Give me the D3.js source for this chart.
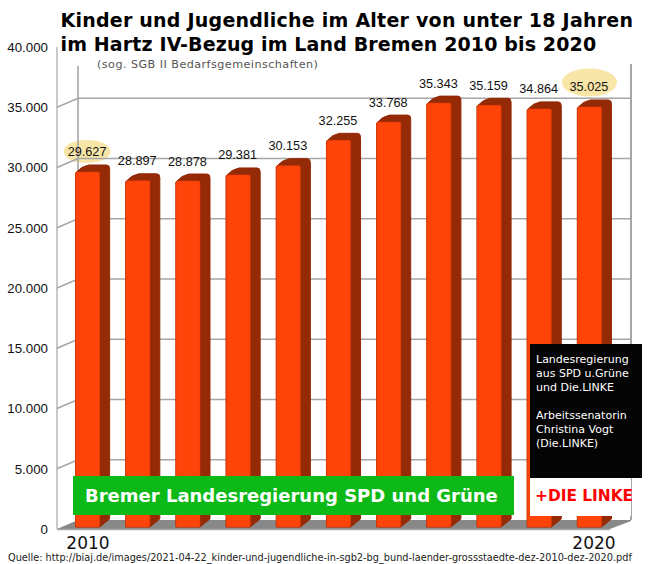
<!DOCTYPE html>
<html><head><meta charset="utf-8">
<script src="https://cdnjs.cloudflare.com/ajax/libs/d3/7.8.5/d3.min.js"></script>
<style>html,body{margin:0;padding:0;background:#fff}svg{display:block}</style>
</head><body><svg id="c" width="659" height="564"></svg>
<script>
const years=[2010,2011,2012,2013,2014,2015,2016,2017,2018,2019,2020];
const values=[29627,28897,28878,29381,30153,32255,33768,35343,35159,34864,35025];
const yearLabels=[2010,2020];
const highlighted=[2010,2020];
const yTicks=[0,5000,10000,15000,20000,25000,30000,35000,40000];
const titleLines=["Kinder und Jugendliche im Alter von unter 18 Jahren","im Hartz IV-Bezug im Land Bremen 2010 bis 2020"];
const subtitle="(sog. SGB II Bedarfsgemeinschaften)";
const infoLines=["Landesregierung","aus SPD u.Grüne","und Die.LINKE","","Arbeitssenatorin","Christina Vogt","(Die.LINKE)"];
const source="Quelle: http://biaj.de/images/2021-04-22_kinder-und-jugendliche-in-sgb2-bg_bund-laender-grossstaedte-dez-2010-dez-2020.pdf";

const svg=d3.select("#c");
const fmt=d3.formatLocale({decimal:",",thousands:".",grouping:[3],currency:["","€"]}).format(",d");
const y=d3.scaleLinear().domain([0,40000]).range([529,47]);
const x=d3.scaleBand().domain(years).range([62,615]).paddingInner(0.52).paddingOuter(0.27);
const dx=21,dy=9,barDx=10,barDy=7;
const grey="#a6a6a6";
const left=57,right=631;
// highlight ellipses under the grid
const ellipseR={2010:[23.5,11.5,-20.5],2020:[27.5,14,-24.5]};
svg.append("g").selectAll("ellipse").data(highlighted).join("ellipse")
 .attr("cx",d=>x(d)+x.bandwidth()/2+(d===2020?0:-0.5))
 .attr("cy",d=>y(values[years.indexOf(d)])+ellipseR[d][2])
 .attr("rx",d=>ellipseR[d][0]).attr("ry",d=>ellipseR[d][1]).attr("fill","#f7e6a8");
const g=svg.append("g");
// floor
g.append("path").attr("d",`M${left},${y(0)}L${left+dx},${y(0)-dy}H${right}V${y(0)-dy+1}L${right-dx},${y(0)}Z`).attr("fill","#888");
g.append("line").attr("x1",left).attr("x2",right-dx).attr("y1",y(0)+0.5).attr("y2",y(0)+0.5).attr("stroke",grey).attr("stroke-width",1.5);
// grid
yTicks.filter(t=>t>0&&t<40000).forEach(t=>{
 g.append("path").attr("d",`M${left},${y(t)}L${left+dx},${y(t)-dy}H${right}`).attr("fill","none").attr("stroke",grey).attr("stroke-width",1.6);
});
g.append("line").attr("x1",left).attr("x2",left).attr("y1",47).attr("y2",y(0)).attr("stroke",grey).attr("stroke-width",1.2);
g.append("line").attr("x1",left+dx).attr("x2",left+dx).attr("y1",66).attr("y2",y(0)-dy).attr("stroke",grey).attr("stroke-width",1.6);
g.append("line").attr("x1",right).attr("x2",right).attr("y1",64).attr("y2",y(0)-dy).attr("stroke",grey).attr("stroke-width",2);
// bars
const bars=svg.append("g").selectAll("g").data(years).join("g");
const val=d=>values[years.indexOf(d)];
bars.append("path").attr("fill","#952a06").attr("stroke","#952a06").attr("stroke-width",1).attr("stroke-linejoin","round")
 .attr("d",d=>{const a=x(d),b=a+x.bandwidth(),t=y(val(d)),bot=y(0)-2;
   return `M${a},${t+1}Q${a+6},${t-barDy+1} ${a+13},${t-barDy}H${b+barDx-3}Q${b+barDx},${t-barDy} ${b+barDx},${t-barDy+4}V${bot-barDy-1}L${b},${bot}H${a}Z`;});
bars.append("rect").attr("x",d=>x(d)).attr("y",d=>y(val(d))).attr("width",x.bandwidth())
 .attr("height",d=>y(0)-2-y(val(d))).attr("rx",1.5).attr("fill","#ff4409").attr("stroke","#e23c08").attr("stroke-width",0.6);
// value labels
svg.append("g").selectAll("text").data(years).join("text")
 .attr("x",d=>x(d)+x.bandwidth()/2-0.5).attr("y",d=>y(val(d))-15.5).attr("text-anchor","middle")
 .attr("font-family","Liberation Sans").attr("font-size",12.7).attr("fill","#111")
 .text(d=>fmt(val(d)));
// y axis labels through d3 axis
const ax=svg.append("g").attr("transform","translate(48,0)")
 .call(d3.axisLeft(y).tickValues(yTicks).tickFormat(fmt).tickSize(0).tickPadding(0));
ax.select(".domain").remove();
ax.selectAll("text").attr("font-family","Liberation Sans").attr("font-size",13.3).attr("fill","#111");
// title
const sans="DejaVu Sans";
const titleSpacing=[0.23,0.13];
svg.append("g").selectAll("text").data(titleLines).join("text")
 .attr("x",60.5).attr("y",(d,i)=>27+i*23.5).attr("font-family",sans).attr("font-weight","bold")
 .attr("font-size",19).attr("letter-spacing",(d,i)=>titleSpacing[i]).attr("fill","#000").text(d=>d);
svg.append("text").attr("x",97).attr("y",68).attr("font-family",sans).attr("font-size",11.2)
 .attr("letter-spacing",0.45).attr("fill","#555").text(subtitle);
// green banner
svg.append("rect").attr("x",73).attr("y",476).attr("width",441).attr("height",39).attr("fill","#0cb916");
svg.append("text").attr("x",85).attr("y",502).attr("font-family",sans).attr("font-weight","bold").attr("font-size",18)
 .attr("fill","#fff").text("Bremer Landesregierung SPD und Grüne");
// black info box
svg.append("rect").attr("x",530).attr("y",478).attr("width",101).attr("height",38).attr("fill","#fff");
svg.append("rect").attr("x",530).attr("y",344).attr("width",112).attr("height",134).attr("fill","#050505");
svg.append("g").selectAll("text").data(infoLines).join("text")
 .attr("x",536).attr("y",(d,i)=>363+i*14).attr("font-family",sans).attr("font-size",11).attr("fill","#fff").text(d=>d);
svg.append("text").attr("x",535).attr("y",501).attr("font-family",sans).attr("font-weight","bold").attr("font-size",15.4)
 .attr("fill","#ff0000").text("+DIE LINKE");
// year labels
svg.append("g").selectAll("text").data(yearLabels).join("text")
 .attr("x",d=>d===2010?88:594).attr("y",548.5).attr("text-anchor","middle").attr("font-family",sans).attr("font-size",17).attr("fill","#111").text(d=>d);
// source
svg.append("text").attr("x",8).attr("y",560.6).attr("font-family",sans).attr("font-size",9.74).attr("fill","#222").text(source);
</script></body></html>
